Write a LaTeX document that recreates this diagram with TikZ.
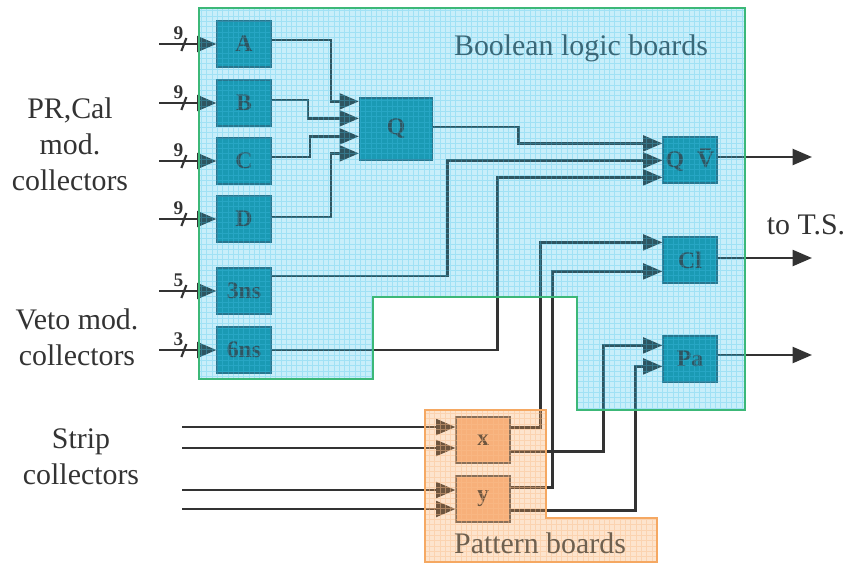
\documentclass[tikz,border=0pt]{standalone}
\usepackage{fontspec}
\setmainfont{Liberation Serif}
\usetikzlibrary{calc, positioning, arrows.meta}
\definecolor{wirec}{HTML}{333333}
\definecolor{tealbox}{HTML}{178FA2}
\definecolor{tealedge}{HTML}{2B5F70}
\definecolor{peachbox}{HTML}{F7B589}
\definecolor{boolblue}{RGB}{35,187,235}
\definecolor{boolgrid}{RGB}{70,195,235}
\definecolor{boolline}{HTML}{3CB878}
\definecolor{pattorange}{RGB}{248,165,88}
\definecolor{pattgrid}{RGB}{250,190,140}
\definecolor{pattline}{HTML}{F5A862}
\definecolor{boolc}{HTML}{3A6878}
\definecolor{pattc}{HTML}{6E604F}
\definecolor{lblc}{HTML}{333333}

\begin{document}
\begin{tikzpicture}[x=0.02cm, y=-0.02cm,
  wire/.style={draw=wirec, line width=1.5pt, -{Triangle[length=11pt,width=9pt]}},
  tick/.style={draw=wirec, line width=1.2pt},
  gate/.style={draw=tealedge, fill=tealbox, line width=0.7pt, inner sep=0pt,
    minimum width=1.08cm, minimum height=0.92cm, text=wirec,
    font=\bfseries\fontsize{13.5}{15}\selectfont},
  pgate/.style={gate, fill=peachbox, draw=black!65},
  num/.style={inner sep=0pt, text=wirec, font=\bfseries\fontsize{11}{12}\selectfont},
  lbl/.style={inner sep=0pt, text=lblc, font=\fontsize{17}{20.5}\selectfont}]
  \useasboundingbox (0,0) rectangle (847,565);

  % logic gates
  \node[gate] (A) at (244,44) {A};
  \node[gate] (B) at (244,103) {B};
  \node[gate] (C) at (244,161) {C};
  \node[gate] (D) at (244,219) {D};
  \node[gate] (t3) at (244,291) {3ns};
  \node[gate] (t6) at (244,350) {6ns};
  \node[gate, minimum width=1.46cm, minimum height=1.24cm] (Q) at (396,129) {Q};
  \node[gate] (QV) at (690,160) {Q\hspace{0.55em}\makebox[0pt][l]{\hspace{0.12em}\rule[0.74em]{0.45em}{1pt}}V};
  \node[gate] (Cl) at (690,260) {Cl};
  \node[gate] (Pa) at (690,359) {Pa};
  % pattern units
  \node[pgate] (x) at (483,440) {x};
  \node[pgate] (y) at (483,499) {y};

  % collector inputs
  \foreach \g/\n in {A/9, B/9, C/9, D/9, t3/5, t6/3} {
    \coordinate (in\g) at ($(\g.west)+(-57,0)$);
    \draw[wire] (in\g) -- (\g.west);
    \draw[tick] ($(in\g)+(22,7)$) -- ++(5,-13);
    \node[num] (n\g) at ($(in\g)+(19,-11)$) {\n};
  }

  % into Q
  \coordinate (q1) at ($(Q.north west)+(0,4)$);
  \coordinate (q2) at ($(Q.north west)+(0,21)$);
  \coordinate (q3) at ($(Q.north west)+(0,39)$);
  \coordinate (q4) at ($(Q.north west)+(0,56)$);
  \draw[wire] ($(A.east)+(0,-4)$) -| ($(q1)+(-28,0)$) -- (q1);
  \draw[wire] ($(B.east)+(0,-3)$) -| ($(q2)+(-51,0)$) -- (q2);
  \draw[wire] ($(C.east)+(0,-4)$) -| ($(q3)+(-49,0)$) -- (q3);
  \draw[wire] ($(D.east)+(0,-2)$) -| ($(q4)+(-28,0)$) -- (q4);

  % into Q Vbar
  \coordinate (v1) at ($(QV.north west)+(0,7)$);
  \coordinate (v2) at ($(QV.north west)+(0,24)$);
  \coordinate (v3) at ($(QV.north west)+(0,41)$);
  \draw[wire] ($(Q.east)+(0,-2)$) -| ($(v1)+(-144,0)$) -- (v1);
  \draw[wire] ($(t3.east)+(0,-15)$) -| ($(v2)+(-215,0)$) -- (v2);
  \draw[wire] (t6.east) -| ($(v3)+(-165,0)$) -- (v3);

  % strip inputs
  \coordinate (s1) at (182,427);
  \coordinate (s2) at (182,448);
  \coordinate (s3) at (182,490);
  \coordinate (s4) at (182,509);
  \draw[wire] (s1) -- (s1 -| x.west);
  \draw[wire] (s2) -- (s2 -| x.west);
  \draw[wire] (s3) -- (s3 -| y.west);
  \draw[wire] (s4) -- (s4 -| y.west);

  % pattern outputs
  \coordinate (c1) at ($(Cl.north west)+(0,6)$);
  \coordinate (c2) at ($(Cl.north west)+(0,35)$);
  \coordinate (p1) at ($(Pa.north west)+(0,10)$);
  \coordinate (p2) at ($(Pa.north west)+(0,31)$);
  \draw[wire] ($(x.north east)+(0,11)$) -| ($(c1)+(-122,0)$) -- (c1);
  \draw[wire] ($(y.north east)+(0,12)$) -| ($(c2)+(-110,0)$) -- (c2);
  \draw[wire] ($(x.south east)+(0,-12)$) -| ($(p1)+(-59,0)$) -- (p1);
  \draw[wire] ($(y.south east)+(0,-12)$) -| ($(p2)+(-27,0)$) -- (p2);

  % to trigger supervisor
  \coordinate (out) at (812,0);
  \draw[wire] ($(QV.east)+(0,-3)$) -- ($(out)+(0,157)$);
  \draw[wire] ($(Cl.east)+(0,-2)$) -- ($(out)+(0,258)$);
  \draw[wire] ($(Pa.east)+(0,-4)$) -- ($(out)+(0,355)$);

  % boolean board overlay
  \begin{scope}
    \clip (199,8) -- (745,8) -- (745,410) -- (577,410) -- (577,297) -- (373,297)
      -- (373,379) -- (199,379) -- cycle;
    \fill[boolblue, opacity=0.25] (199,8) rectangle (745,410);
    \draw[boolgrid, opacity=0.3, line width=0.3pt, step=0.106cm] (199,410) grid (745,8);
  \end{scope}
  \draw[boolline, line width=0.8pt] (199,8) -- (745,8) -- (745,410) -- (577,410)
    -- (577,297) -- (373,297) -- (373,379) -- (199,379) -- cycle;

  % pattern board overlay
  \begin{scope}
    \clip (425,410) -- (546,410) -- (546,518) -- (657,518) -- (657,562) -- (425,562) -- cycle;
    \fill[pattorange, opacity=0.3] (425,410) rectangle (657,562);
    \draw[pattgrid, opacity=0.45, line width=0.3pt, step=0.106cm] (425,562) grid (657,410);
  \end{scope}
  \draw[pattline, line width=0.8pt] (425,410) -- (546,410) -- (546,518) -- (657,518)
    -- (657,562) -- (425,562) -- cycle;

  % labels
  \node[lbl, anchor=base, text=boolc] (booltitle) at (581,55) {Boolean logic boards};
  \node[lbl, anchor=base, text=pattc] (patttitle) at (540,553) {Pattern boards};
  \node[lbl, anchor=base] (ts) at (806,234) {to T.S.};
  \node[lbl, align=center] (prcal) at (70,144) {PR,Cal\\mod.\\collectors};
  \node[lbl, align=center] (veto) at (77,337) {Veto mod.\\collectors};
  \node[lbl, align=center] (strip) at (81,457) {Strip\\collectors};
\end{tikzpicture}
\end{document}
